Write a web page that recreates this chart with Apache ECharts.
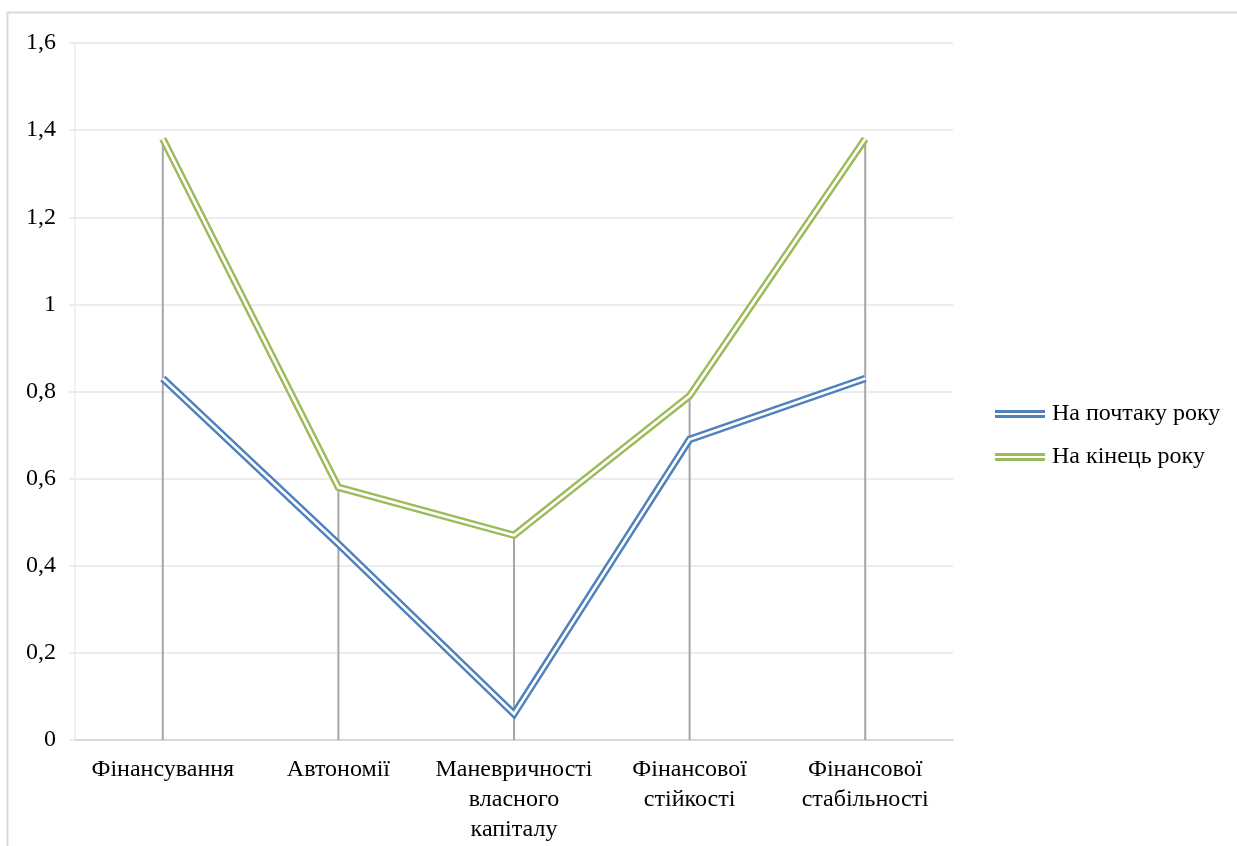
<!DOCTYPE html>
<html>
<head>
<meta charset="utf-8">
<script src="https://cdn.jsdelivr.net/npm/echarts@6/dist/echarts.min.js"></script>
<style>
  html, body { margin: 0; padding: 0; background: #fff; }
  #chart { width: 1237px; height: 846px; }
</style>
</head>
<body>
<div id="chart"></div>
<script>
// Показники фінансової стійкості: на початку та на кінець року
const categories = [
  'Фінансування',
  'Автономії',
  'Маневричності\nвласного\nкапіталу',
  'Фінансової\nстійкості',
  'Фінансової\nстабільності'
];
const startOfYear = [0.83, 0.45, 0.06, 0.69, 0.83];
const endOfYear = [1.38, 0.58, 0.47, 0.79, 1.38];
const seriesNames = ['На почтаку року', 'На кінець року'];
const seriesColors = ['#4F81BD', '#9BBB59'];
const yTicks = { min: 0, max: 1.6, step: 0.2 };

const FONT = "'Liberation Serif', 'Times New Roman', serif";

// Вертикальні лінії від найвищої точки до осі
const dropTops = categories.map((_, i) => Math.max(startOfYear[i], endOfYear[i]));

// Подвійна лінія: широка кольорова + вузька біла посередині
function doubleLine(name, data, color) {
  return [
    {
      name: name,
      type: 'line',
      data: data,
      symbol: 'none',
      z: 3,
      lineStyle: { color: color, width: 7.5, join: 'miter', cap: 'butt' },
      itemStyle: { color: color }
    },
    {
      name: name + ' ',
      type: 'line',
      data: data,
      symbol: 'none',
      z: 4,
      silent: true,
      lineStyle: { color: '#ffffff', width: 2.6, join: 'miter', cap: 'butt' }
    }
  ];
}

const legendIcon = 'path://M0,0H50V2.8H0Z M0,5H50V7.8H0Z';

const chart = echarts.init(document.getElementById('chart'), null, { renderer: 'canvas' });

chart.setOption({
  animation: false,
  backgroundColor: '#ffffff',
  textStyle: { fontFamily: FONT },
  graphic: [{
    type: 'rect',
    shape: { x: 7.5, y: 12.5, width: 1400, height: 1000 },
    style: { fill: 'none', stroke: '#d9d9d9', lineWidth: 2 },
    z: -1,
    silent: true
  }],
  grid: { left: 75, right: 284, top: 43, bottom: 106 },
  legend: {
    orient: 'vertical',
    left: 990,
    top: 397,
    itemWidth: 50,
    itemHeight: 8,
    itemGap: 19,
    icon: legendIcon,
    data: seriesNames,
    textStyle: { fontFamily: FONT, fontSize: 24, color: '#000000', padding: [0, 0, 0, 2] }
  },
  xAxis: {
    type: 'category',
    data: categories,
    boundaryGap: true,
    axisLine: { show: true, lineStyle: { color: '#d9d9d9', width: 2 } },
    axisTick: { show: false },
    axisLabel: {
      interval: 0,
      margin: 15,
      fontFamily: FONT,
      fontSize: 24,
      lineHeight: 30,
      color: '#000000',
      align: 'center'
    },
    splitLine: { show: false }
  },
  yAxis: {
    type: 'value',
    min: yTicks.min,
    max: yTicks.max,
    interval: yTicks.step,
    axisLine: { show: true, lineStyle: { color: '#ececec', width: 1.5 } },
    axisTick: { show: true, length: 6, lineStyle: { color: '#ececec', width: 2 } },
    axisLabel: {
      margin: 19,
      fontFamily: FONT,
      fontSize: 24,
      color: '#000000',
      formatter: v => String(Math.round(v * 10) / 10).replace('.', ',')
    },
    splitLine: { show: true, lineStyle: { color: '#ececec', width: 2 } }
  },
  series: [
    {
      name: 'drop',
      type: 'custom',
      z: 1,
      silent: true,
      data: dropTops.map((v, i) => [i, v]),
      renderItem: function (params, api) {
        const top = api.coord([api.value(0), api.value(1)]);
        const bottom = api.coord([api.value(0), 0]);
        return {
          type: 'line',
          shape: { x1: top[0], y1: top[1], x2: bottom[0], y2: bottom[1] },
          style: { stroke: '#a6a6a6', lineWidth: 2 }
        };
      }
    },
    ...doubleLine(seriesNames[0], startOfYear, seriesColors[0]),
    ...doubleLine(seriesNames[1], endOfYear, seriesColors[1])
  ]
});
</script>
</body>
</html>
